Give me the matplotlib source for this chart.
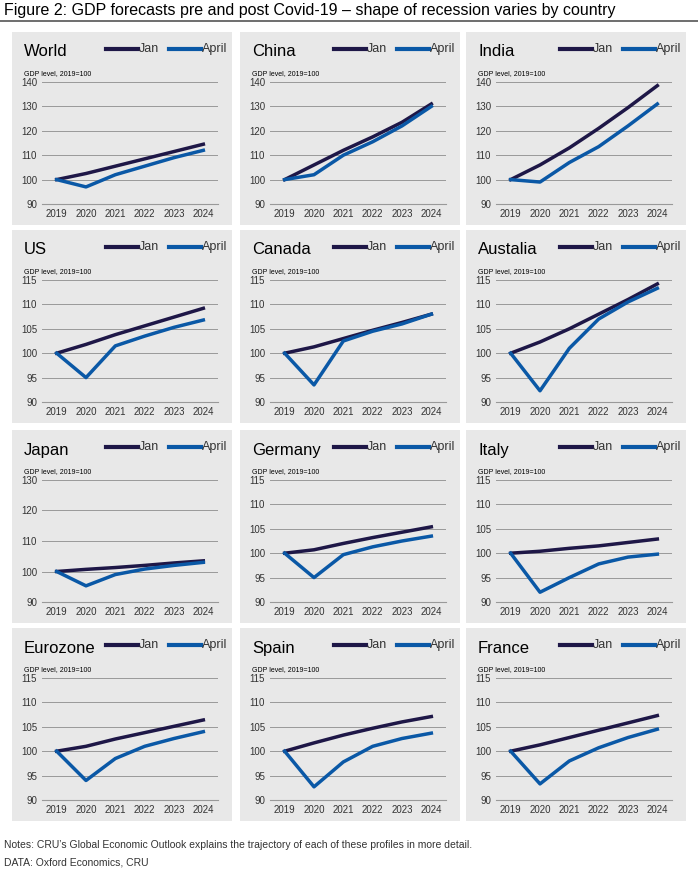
import matplotlib.pyplot as plt
from matplotlib.patches import Rectangle
from matplotlib.lines import Line2D

years = ["2019", "2020", "2021", "2022", "2023", "2024"]
countries = ["World", "China", "India", "US", "Canada", "Austalia",
             "Japan", "Germany", "Italy", "Eurozone", "Spain", "France"]
jan = {
    "World": [100, 102.5, 105.5, 108.5, 111.5, 114.5],
    "China": [100, 106, 112, 117.5, 123.5, 131],
    "India": [100, 106, 113, 121, 129.5, 138.5],
    "US": [100, 101.8, 103.8, 105.6, 107.4, 109.2],
    "Canada": [100, 101.3, 103, 104.7, 106.3, 108],
    "Austalia": [100, 102.3, 105, 108, 111, 114.2],
    "Japan": [100, 100.7, 101.3, 102, 102.8, 103.5],
    "Germany": [100, 100.7, 102, 103.2, 104.3, 105.4],
    "Italy": [100, 100.4, 101, 101.5, 102.2, 102.9],
    "Eurozone": [100, 101, 102.5, 103.8, 105.1, 106.4],
    "Spain": [100, 101.7, 103.3, 104.7, 106, 107.1],
    "France": [100, 101.3, 102.8, 104.3, 105.8, 107.3],
}
april = {
    "World": [100, 97, 102, 105.5, 109, 112],
    "China": [100, 102, 110, 115.5, 122, 130],
    "India": [100, 99, 107, 113.5, 122, 131],
    "US": [100, 95, 101.5, 103.5, 105.3, 106.8],
    "Canada": [100, 93.5, 102.5, 104.5, 106, 108],
    "Austalia": [100, 92.3, 101, 107, 110.5, 113.3],
    "Japan": [100, 95.3, 99, 100.8, 102, 103],
    "Germany": [100, 95, 99.7, 101.3, 102.5, 103.5],
    "Italy": [100, 92, 95, 97.8, 99.2, 99.8],
    "Eurozone": [100, 94, 98.5, 101, 102.6, 104],
    "Spain": [100, 92.7, 97.8, 101, 102.6, 103.7],
    "France": [100, 93.3, 98, 100.7, 102.8, 104.5],
}
yticks = {
    "World": range(90, 141, 10), "China": range(90, 141, 10), "India": range(90, 141, 10),
    "Japan": range(90, 131, 10),
}
default_ticks = range(90, 116, 5)

JAN_C = "#1e1747"
APR_C = "#0a58a6"
W, H = 698, 872
fig = plt.figure(figsize=(W / 100, H / 100), dpi=100)
plt.rcParams['font.family'] = ['Liberation Sans', 'DejaVu Sans']

fig.text(4 / W, 1 - 10 / H, "Figure 2: GDP forecasts pre and post Covid-19 \u2013 shape of recession varies by country",
         fontsize=11.5, va="center", ha="left")
fig.add_artist(Line2D([0, 1], [1 - 21 / H, 1 - 21 / H], color="#555555", lw=1.2))

col_x = [12, 240, 466]
row_y = [32, 230, 430, 628]
bw, bh = 220, 193

for i, c in enumerate(countries):
    bx, by = col_x[i % 3], row_y[i // 3]
    fig.add_artist(Rectangle((bx / W, 1 - (by + bh) / H), bw / W, bh / H,
                             facecolor="#e8e8e8", edgecolor="none", zorder=0))
    fig.text((bx + 12) / W, 1 - (by + 20) / H, c, fontsize=12, va="center")
    fig.text((bx + 12) / W, 1 - (by + 42) / H, "GDP level, 2019=100", fontsize=5, va="center")
    for lx, col, lab in [(bx + 94, JAN_C, "Jan"), (bx + 157, APR_C, "April")]:
        yy = 1 - (by + 17) / H
        fig.add_artist(Line2D([lx / W, (lx + 32) / W], [yy, yy], color=col, lw=3))
        fig.text((lx + 33) / W, yy, lab, fontsize=9, va="center", color="#333333")

    ticks = list(yticks.get(c, default_ticks))
    ax = fig.add_axes([(bx + 30) / W, 1 - (by + 172) / H, 176 / W, 122 / H])
    ax.set_facecolor("none")
    x = list(range(len(years)))
    ax.plot(x, jan[c], color=JAN_C, lw=2.5)
    ax.plot(x, april[c], color=APR_C, lw=2.5)
    ax.set_xlim(-0.5, 5.5)
    ax.set_ylim(ticks[0], ticks[-1])
    ax.set_yticks(ticks)
    ax.set_xticks(x)
    ax.set_xticklabels(years)
    ax.tick_params(labelsize=7, colors="#333333", length=0)
    ax.grid(axis="y", color="#999999", lw=0.7)
    for s in ["top", "right", "left"]:
        ax.spines[s].set_visible(False)
    ax.spines["bottom"].set_color("#999999")

fig.text(4 / W, 1 - 845 / H, "Notes: CRU\u2019s Global Economic Outlook explains the trajectory of each of these profiles in more detail.",
         fontsize=7.5, va="center", color="#333333")
fig.text(4 / W, 1 - 862 / H, "DATA: Oxford Economics, CRU", fontsize=7.5, va="center", color="#333333")

fig.savefig("out.png", dpi=100)
